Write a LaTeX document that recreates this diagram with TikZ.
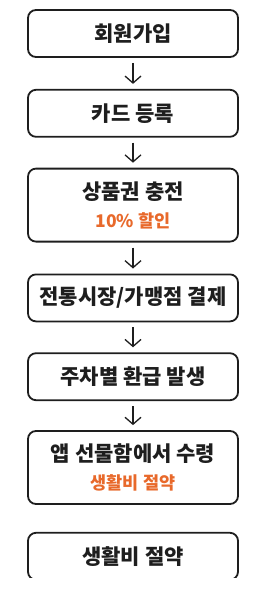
\documentclass[tikz,border=0pt]{standalone}
\usepackage{fontspec}
\setmainfont{Noto Sans CJK KR}
\definecolor{FlowInk}{HTML}{1E1E1E}
\definecolor{FlowOrange}{HTML}{E8692B}
\usetikzlibrary{positioning,arrows.meta}

\begin{document}
\begin{tikzpicture}[x=1pt, y=1pt, every node/.style={font=\fontsize{21}{23}\selectfont\bfseries, text=FlowInk},
    stepbox/.style={draw=FlowInk, line width=1.8pt, rounded corners=8pt, minimum width=210pt, minimum height=47pt, inner sep=0pt, align=center},
    flow/.style={-{Straight Barb[length=7pt,width=16pt]}, line width=1.3pt, FlowInk, shorten <=5pt, shorten >=5pt}]
    \useasboundingbox (0,0) rectangle (278,-599);
    \begin{scope}
      \clip (0,0) rectangle (278,-577);
      \node[stepbox] (join) at (133,-33.5) {회원가입};
      \node[stepbox, below=31pt of join] (card) {카드 등록};
      \node[stepbox, minimum height=73pt, below=30pt of card] (charge) {상품권 충전\\[5pt]{\color{FlowOrange}\fontsize{17.5}{19}\selectfont 10\% 할인}};
      \node[stepbox, below=31pt of charge] (pay) {전통시장/가맹점 결제};
      \node[stepbox, below=30pt of pay] (refund) {주차별 환급 발생};
      \node[stepbox, minimum height=73pt, below=29pt of refund] (gift) {앱 선물함에서 수령\\[5pt]{\color{FlowOrange}\fontsize{17.5}{19}\selectfont 생활비 절약}};
      \node[stepbox, below=27pt of gift] (save) {생활비 절약};
      \draw[flow] (join) -- (card);
      \draw[flow] (card) -- (charge);
      \draw[flow] (charge) -- (pay);
      \draw[flow] (pay) -- (refund);
      \draw[flow] (refund) -- (gift);
    \end{scope}
  \end{tikzpicture}
\end{document}
